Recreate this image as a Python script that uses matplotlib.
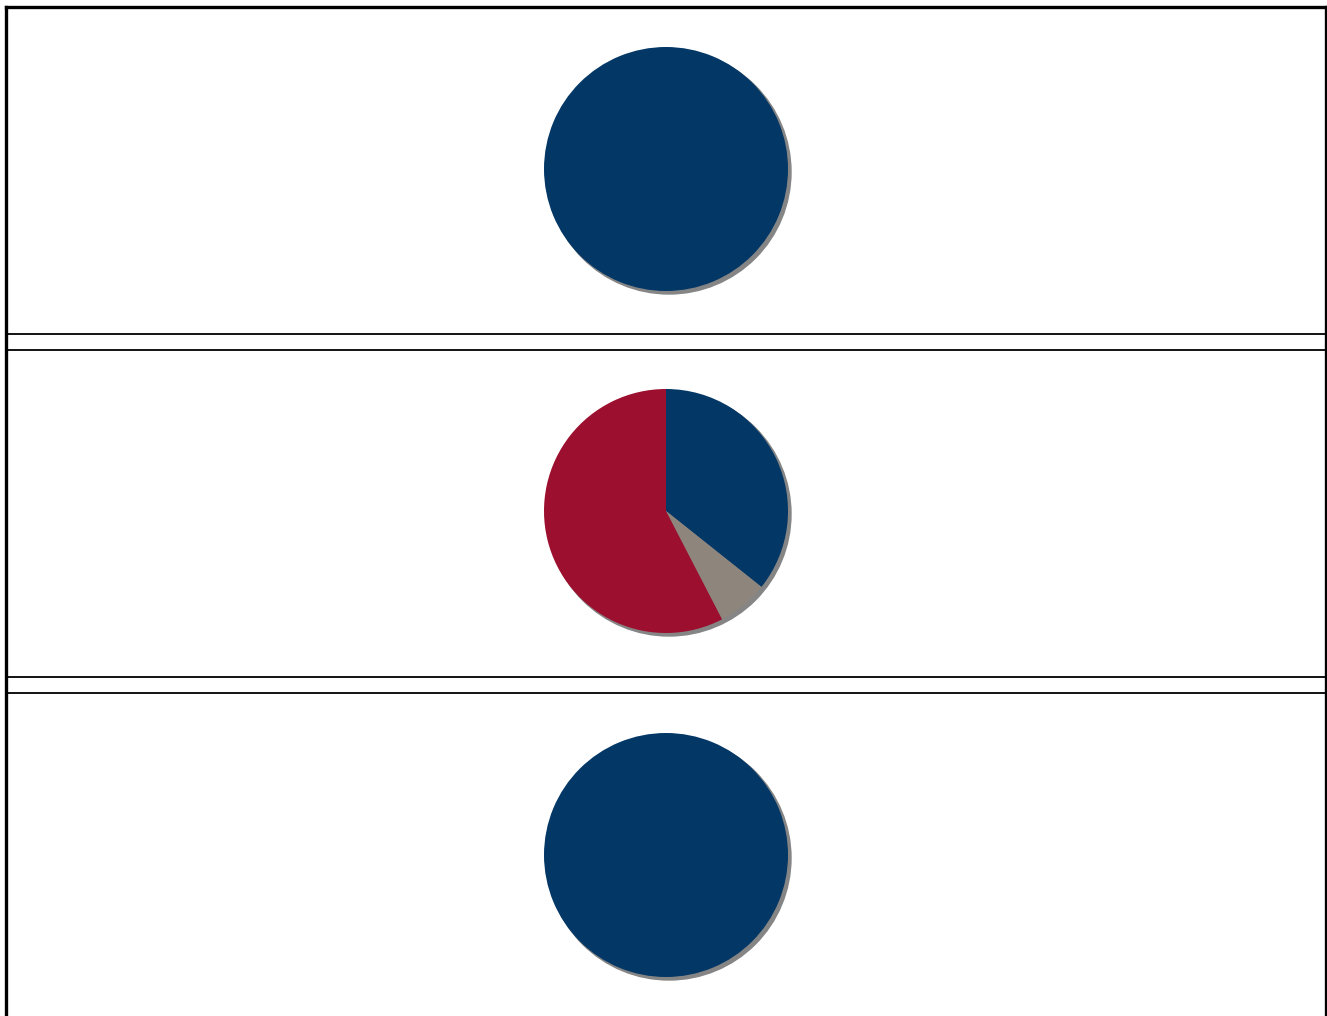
import matplotlib.pyplot as plt
from matplotlib.patches import Circle

# share of each segment, one pie per panel
segments = ["Blue", "Grey", "Red"]
top_values = [100, 0, 0]
middle_values = [35.7, 6.7, 57.6]
bottom_values = [100, 0, 0]
seg_colors = ["#033766", "#8e857c", "#9c0f2e"]

W, H = 1327, 1016
fig = plt.figure(figsize=(W / 100, H / 100), dpi=100)
ax = fig.add_axes([0, 0, 1, 1])

radius = 122
centers_y = [169, 511, 855]   # measured from the top of the page
cx = 666

for vals, cy in zip([top_values, middle_values, bottom_values], centers_y):
    y = H - cy
    # soft grey drop shadow behind each pie
    ax.add_patch(Circle((cx + 3, y - 3), radius, color="#858585", zorder=1))
    keep = [(v, c) for v, c in zip(vals, seg_colors) if v > 0]
    ax.pie([v for v, _ in keep], colors=[c for _, c in keep], center=(cx, y),
           radius=radius, startangle=90, counterclock=False,
           wedgeprops=dict(linewidth=0, zorder=2))

# page frame and panel separators
lw_thick = 2.4
lw_thin = 1.3
ax.plot([5.5, 5.5], [0, H - 6.5], color="black", lw=lw_thick, solid_capstyle="projecting")
ax.plot([1325.5, 1325.5], [0, H - 6.5], color="black", lw=lw_thick, solid_capstyle="projecting")
ax.plot([5.5, 1325.5], [H - 6.5, H - 6.5], color="black", lw=lw_thick, solid_capstyle="projecting")
for yy in [333.5, 349.5, 676.5, 692.5]:
    ax.plot([5.5, 1325.5], [H - yy, H - yy], color="black", lw=lw_thin)

ax.set_xlim(0, W)
ax.set_ylim(0, H)
ax.set_aspect("equal")
ax.axis("off")

fig.savefig("out.png", dpi=100, facecolor="white")
